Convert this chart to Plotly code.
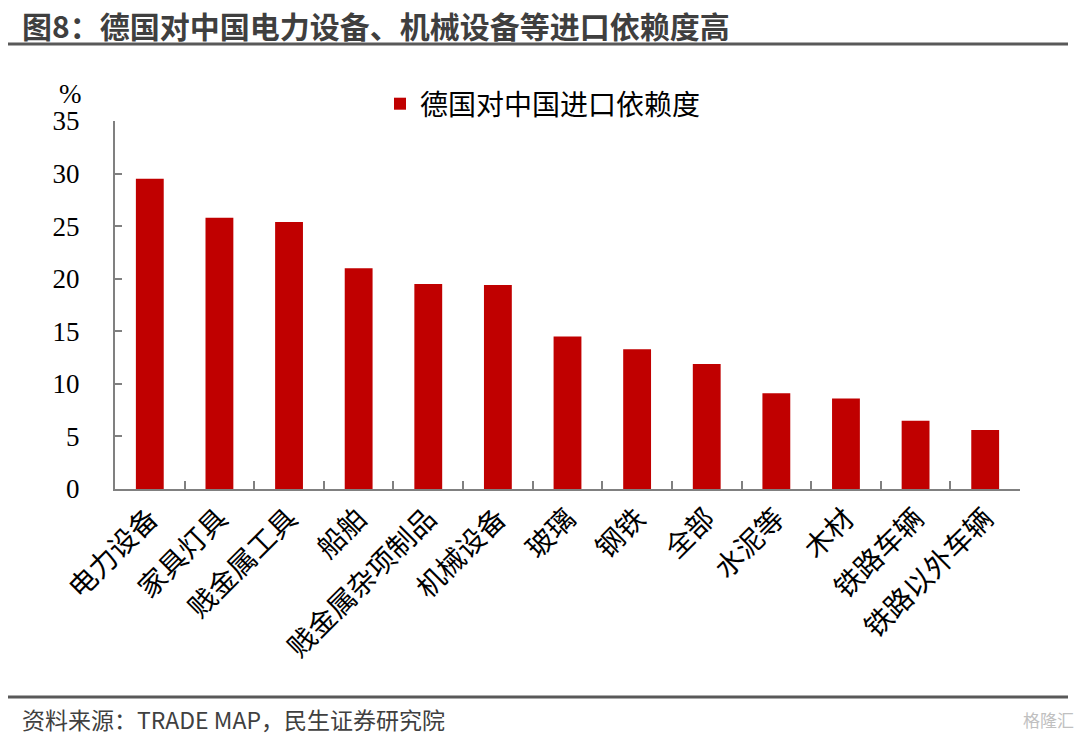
import plotly.graph_objects as go

categories = ["电力设备", "家具灯具", "贱金属工具", "船舶", "贱金属杂项制品", "机械设备",
              "玻璃", "钢铁", "全部", "水泥等", "木材", "铁路车辆", "铁路以外车辆"]
values = [29.5, 25.8, 25.4, 21.0, 19.5, 19.4, 14.5, 13.3, 11.9, 9.1, 8.6, 6.5, 5.6]
series_name = "德国对中国进口依赖度"
y_ticks = [0, 5, 10, 15, 20, 25, 30, 35]

title_text = "图8：德国对中国电力设备、机械设备等进口依赖度高"
source_text = "资料来源：TRADE MAP，民生证券研究院"

SERIF = "Liberation Serif, Times New Roman, Noto Sans CJK SC, serif"
SANS = "Noto Sans CJK SC, sans-serif"

# plot area in pixels
L, R, T, B = 115, 1020, 121, 489
W, H = 1080, 735
pw, ph = R - L, B - T

def px(x):
    return (x - L) / pw

def py(y):
    return (B - y) / ph

fig = go.Figure()
fig.add_trace(go.Bar(
    x=categories, y=values, name=series_name,
    marker=dict(color="#C00000", line=dict(width=0)),
    showlegend=True,
))

axis_color = "#808080"
fig.update_layout(
    width=W, height=H,
    margin=dict(l=L, r=W - R, t=T, b=H - B),
    paper_bgcolor="white", plot_bgcolor="white",
    bargap=0.6,
    showlegend=True,
    legend=dict(
        x=px(380), y=py(104), xanchor="left", yanchor="middle",
        orientation="h",
        font=dict(family=SERIF, size=28, color="#000000"),
        bgcolor="rgba(0,0,0,0)",
        itemwidth=30,
    ),
    xaxis=dict(
        type="category",
        showline=True, linecolor=axis_color, linewidth=2,
        ticks="inside", tickson="boundaries", ticklen=8, tickcolor=axis_color, tickwidth=2,
        tickangle=-45,
        tickfont=dict(family=SERIF, size=28, color="#000000"),
        showgrid=False, zeroline=False,
    ),
    yaxis=dict(
        range=[0, 35], tickvals=y_ticks,
        showline=True, linecolor=axis_color, linewidth=2,
        ticks="inside", ticklen=7, tickcolor=axis_color, tickwidth=2,
        tickfont=dict(family=SERIF, size=27, color="#000000"),
        ticklabelstandoff=28,
        showgrid=False, zeroline=False,
    ),
)

shapes = [
    dict(type="line", xref="paper", yref="paper", x0=px(8), x1=px(1068), y0=py(44), y1=py(44),
         line=dict(color="#595959", width=3)),
    dict(type="line", xref="paper", yref="paper", x0=px(8), x1=px(1068), y0=py(697), y1=py(697),
         line=dict(color="#595959", width=3)),
]
fig.update_layout(shapes=shapes)

annotations = [
    dict(text="<b>" + title_text + "</b>", xref="paper", yref="paper", x=px(20), y=py(25),
         xanchor="left", yanchor="middle", showarrow=False,
         font=dict(family=SANS, size=30, color="#3f3f3f")),
    dict(text=source_text, xref="paper", yref="paper", x=px(20), y=py(719),
         xanchor="left", yanchor="middle", showarrow=False,
         font=dict(family=SANS, size=23, color="#404040")),
    dict(text="%", xref="paper", yref="paper", x=px(84), y=py(94),
         xanchor="right", yanchor="middle", showarrow=False,
         font=dict(family=SERIF, size=27, color="#000000")),
    dict(text="格隆汇", xref="paper", yref="paper", x=px(1076), y=py(719),
         xanchor="right", yanchor="middle", showarrow=False,
         font=dict(family=SANS, size=17, color="#c0c0c0")),
]
fig.update_layout(annotations=annotations)

fig.write_html("out.html", config={"displayModeBar": False},
               post_script="document.body.style.margin='0';document.body.style.overflow='hidden';")
